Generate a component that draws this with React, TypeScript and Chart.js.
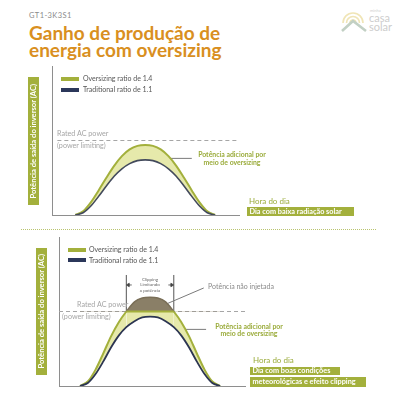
import React, { useEffect, useRef } from "react";
import { Chart, registerables } from "chart.js";
Chart.register(...registerables);

// ---------- data ----------
const hoursTop = [3, 4, 5, 6, 7, 8, 9, 10, 11, 12, 13, 14, 15, 16, 17, 18, 19, 20, 21];
const traditionalTop = [0, 1.5, 6, 12.5, 19.5, 26, 31, 34.5, 36.5, 37, 36.5, 34.5, 31, 26, 19.5, 12.5, 6, 1.5, 0];
const oversizedTop = [0, 2.5, 8.5, 16.5, 25, 33, 39.5, 44, 46.4, 47, 46.4, 44, 39.5, 33, 25, 16.5, 8.5, 2.5, 0];

const hoursBottom = [3, 4, 5, 6, 7, 8, 8.95, 10, 11, 12, 13, 14, 15.05, 16, 17, 18, 19, 20, 21];
const traditionalBottom = [0, 2, 8, 16.5, 26, 34, 39.5, 43.5, 46, 46.5, 46, 43.5, 39.5, 34, 26, 16.5, 8, 2, 0];
const oversizedBottom = [0, 3, 11, 22, 33.5, 43, 50, 56.5, 59, 59.5, 59, 56.5, 50, 43, 33.5, 22, 11, 3, 0];

const ratedPower = 50;
const clipStart = 8.95;
const clipEnd = 15.05;

// annotation anchors in data units (hour, power)
const leaderTop = [[14.3, 38], [18.0, 38]];
const leaderInjected = [[14.3, 55.5], [18.9, 65.8]];
const leaderBottom = [[16.5, 38], [19.2, 38]];
const clipBracketTop = 74.5;
const clipArrowLevel = 67.8;

const labels = {
  code: "GT1-3K3S1",
  title1: "Ganho de produção de",
  title2: "energia com oversizing",
  oversized: "Oversizing ratio de 1.4",
  traditional: "Traditional ratio de 1.1",
  rated1: "Rated AC power",
  rated2: "(power limiting)",
  extra1: "Potência adicional por",
  extra2: "meio de oversizing",
  hour: "Hora do dia",
  lowDay: "Dia com baixa radiação solar",
  goodDay1: "Dia com boas condições",
  goodDay2: "meteorológicas e efeito clipping",
  notInjected: "Potência não injetada",
  clip: ["Clipping", "Limitando", "a potência"],
  yTitle: "Potência de saída do inversor (AC)",
};

// ---------- styles ----------
const GREEN = "#a3b03c";
const GREEN_TEXT = "#9aab3a";
const YELLOW = "#e6e9ab";
const NAVY_TOP = "#434a5c";
const NAVY = "#2c3552";
const BROWN = "#8a7f67";
const GREY = "#a6a6a6";
const AXIS = "#8e8e8e";

const pts = (xs: number[], ys: number[]) => xs.map((x, i) => ({ x, y: ys[i] }));
const pairPts = (p: number[][]) => p.map(([x, y]) => ({ x, y }));

function baseOptions(pad: any, xmin: number, xmax: number) {
  const axis = {
    type: "linear" as const,
    display: true,
    grid: { display: false, drawTicks: false },
    ticks: { display: false },
    border: { display: true, color: AXIS, width: 1 },
  };
  return {
    animation: false as const,
    responsive: false,
    maintainAspectRatio: false,
    events: [],
    layout: { padding: pad },
    plugins: { legend: { display: false }, tooltip: { enabled: false } },
    elements: { point: { radius: 0 } },
    scales: {
      x: { ...axis, min: xmin, max: xmax },
      y: { ...axis, min: 0, max: 100 },
    },
  };
}

function useChart(ref: any, config: () => any) {
  useEffect(() => {
    const c = new Chart(ref.current, config());
    return () => c.destroy();
  }, []);
}

const T = ({ x, cy, size, color, weight = 400, center = false, children, ls = 0 }: any) => (
  <div
    style={{
      position: "absolute",
      left: x,
      top: cy - size / 2,
      fontSize: size,
      lineHeight: `${size}px`,
      color,
      fontWeight: weight,
      whiteSpace: "nowrap",
      letterSpacing: ls,
      transform: center ? "translateX(-50%)" : undefined,
    }}
  >
    {children}
  </div>
);

const Box = ({ x, y, w, h, size, children }: any) => (
  <div
    style={{
      position: "absolute",
      left: x,
      top: y,
      width: w,
      height: h,
      background: GREEN,
      color: "#fff",
      fontWeight: 700,
      fontSize: size,
      display: "flex",
      alignItems: "center",
      paddingLeft: 2.5,
      boxSizing: "border-box",
      whiteSpace: "nowrap",
      overflow: "hidden",
    }}
  >
    {children}
  </div>
);

const YTitle = ({ x, y, w, h }: any) => (
  <div
    style={{
      position: "absolute",
      left: x,
      top: y,
      width: w,
      height: h,
      background: GREEN,
      display: "flex",
      alignItems: "center",
      justifyContent: "center",
    }}
  >
    <span
      style={{
        writingMode: "vertical-rl",
        transform: "rotate(180deg)",
        color: "#fff",
        fontSize: 7.6,
        fontWeight: 700,
        whiteSpace: "nowrap",
        lineHeight: 1,
      }}
    >
      {labels.yTitle}
    </span>
  </div>
);

const Swatch = ({ x, y, color }: any) => (
  <div style={{ position: "absolute", left: x, top: y, width: 18, height: 4, background: color }} />
);

export default function App() {
  const topRef = useRef<HTMLCanvasElement>(null);
  const botRef = useRef<HTMLCanvasElement>(null);

  useChart(topRef, () => ({
    type: "line",
    data: {
      datasets: [
        {
          label: labels.traditional,
          data: pts(hoursTop, traditionalTop),
          borderColor: NAVY_TOP,
          borderWidth: 1.6,
          fill: false,
          cubicInterpolationMode: "monotone",
        },
        {
          label: labels.oversized,
          data: pts(hoursTop, oversizedTop),
          borderColor: GREEN,
          borderWidth: 2,
          backgroundColor: YELLOW,
          fill: 0,
          cubicInterpolationMode: "monotone",
        },
        {
          label: labels.rated1,
          data: [{ x: 0.69, y: ratedPower }, { x: 24.1, y: ratedPower }],
          borderColor: GREY,
          borderWidth: 1.2,
          borderDash: [4, 3],
          fill: false,
        },
        {
          label: "leader",
          data: pairPts(leaderTop),
          borderColor: "#7a7a7a",
          borderWidth: 1,
          fill: false,
        },
      ],
    },
    options: baseOptions({ left: 52, top: 66, right: 161, bottom: 185 }, 0, 24.08),
  }));

  useChart(botRef, () => {
    const above = (c: any) => c.p0.parsed.y >= ratedPower && c.p1.parsed.y >= ratedPower;
    return {
      type: "line",
      data: {
        datasets: [
          {
            label: labels.traditional,
            data: pts(hoursBottom, traditionalBottom),
            borderColor: NAVY,
            borderWidth: 1.8,
            fill: false,
            cubicInterpolationMode: "monotone",
          },
          {
            label: "clip",
            data: [{ x: clipStart, y: ratedPower }, { x: clipEnd, y: ratedPower }],
            borderColor: GREEN,
            borderWidth: 2,
            fill: false,
          },
          {
            label: labels.notInjected,
            data: pts(hoursBottom, oversizedBottom),
            borderWidth: 1.5,
            borderColor: "rgba(0,0,0,0)",
            segment: { borderColor: (c: any) => (above(c) ? "#7a6f58" : "rgba(0,0,0,0)") },
            fill: { target: { value: ratedPower }, above: BROWN, below: "rgba(0,0,0,0)" },
            cubicInterpolationMode: "monotone",
          },
          {
            label: labels.oversized,
            data: pts(hoursBottom, oversizedBottom),
            borderColor: GREEN,
            borderWidth: 2,
            segment: { borderColor: (c: any) => (above(c) ? "rgba(0,0,0,0)" : GREEN) },
            backgroundColor: YELLOW,
            fill: 0,
            cubicInterpolationMode: "monotone",
          },
          {
            label: labels.rated1,
            data: [{ x: 0.3, y: ratedPower }, { x: 24.2, y: ratedPower }],
            borderColor: GREY,
            borderWidth: 1.2,
            borderDash: [4, 3],
            fill: false,
          },
          { label: "l1", data: pairPts(leaderInjected), borderColor: "#7a7a7a", borderWidth: 1, fill: false },
          { label: "l2", data: pairPts(leaderBottom), borderColor: "#7a7a7a", borderWidth: 1, fill: false },
          {
            label: "b1",
            data: [{ x: clipStart, y: ratedPower }, { x: clipStart, y: clipBracketTop }],
            borderColor: "#555",
            borderWidth: 1,
            fill: false,
          },
          {
            label: "b2",
            data: [{ x: clipEnd, y: ratedPower }, { x: clipEnd, y: clipBracketTop }],
            borderColor: "#555",
            borderWidth: 1,
            fill: false,
          },
          {
            label: "a1",
            data: [{ x: clipStart + 0.25, y: clipArrowLevel }, { x: 9.65, y: clipArrowLevel }],
            borderColor: "#444",
            backgroundColor: "#444",
            borderWidth: 0.8,
            pointStyle: "triangle",
            pointRadius: [2, 0],
            pointRotation: [-90, 0],
            fill: false,
          },
          {
            label: "a2",
            data: [{ x: clipEnd - 0.25, y: clipArrowLevel }, { x: 14.35, y: clipArrowLevel }],
            borderColor: "#444",
            backgroundColor: "#444",
            borderWidth: 0.8,
            pointStyle: "triangle",
            pointRadius: [2, 0],
            pointRotation: [90, 0],
            fill: false,
          },
        ],
      },
      options: baseOptions({ left: 59, top: 237, right: 155, bottom: 14 }, 0.3, 24.2),
    };
  });

  return (
    <div
      style={{
        position: "fixed",
        left: 0,
        top: 0,
        width: 400,
        height: 400,
        overflow: "hidden",
        background: "#fff",
        fontFamily: "Lato, 'Open Sans', sans-serif",
      }}
    >
      {/* header */}
      <T x={29} cy={15.7} size={7.5} color="#8a8a8a" ls={0.4}>{labels.code}</T>
      <T x={29} cy={32} size={19} color="#d98f21" weight={700}>{labels.title1}</T>
      <T x={29} cy={49} size={19} color="#d98f21" weight={700}>{labels.title2}</T>

      {/* logo */}
      <svg style={{ position: "absolute", left: 338, top: 4 }} width={60} height={30}>
        <g fill="none" stroke="#f0e5b6" strokeWidth={1.6}>
          <path d="M5 19 A10 10 0 0 1 25 19" />
          <path d="M8.5 19 A6.5 6.5 0 0 1 21.5 19" />
          <path d="M12 19 A3 3 0 0 1 18 19" />
        </g>
        <polyline points="4,27 15,17 28,27" fill="none" stroke="#c2d0c4" strokeWidth={2.6} />
        <text x={32} y={8} fontSize={4} fill="#cfcfcf" fontFamily="Lato">minha</text>
        <text x={31} y={17.5} fontSize={11} fill="#cdcdcd" fontFamily="Lato">casa</text>
        <text x={31} y={26.5} fontSize={11} fill="#cdcdcd" fontFamily="Lato">solar</text>
      </svg>

      <canvas ref={topRef} width={400} height={400} style={{ position: "absolute", left: 0, top: 0 }} />
      <canvas ref={botRef} width={400} height={400} style={{ position: "absolute", left: 0, top: 0 }} />

      {/* top chart texts */}
      <YTitle x={28} y={77} w={11} h={128} />
      <Swatch x={61} y={76.5} color={GREEN} />
      <T x={83} cy={78.3} size={7} color="#555">{labels.oversized}</T>
      <Swatch x={61} y={87.5} color="#2b375a" />
      <T x={83} cy={89.3} size={7} color="#555">{labels.traditional}</T>
      <T x={57} cy={134} size={7.2} color={GREY}>{labels.rated1}</T>
      <T x={57} cy={146} size={7.2} color={GREY}>{labels.rated2}</T>
      <T x={232} cy={154} size={6.9} color={GREEN_TEXT} weight={700} center>{labels.extra1}</T>
      <T x={232} cy={162} size={6.9} color={GREEN_TEXT} weight={700} center>{labels.extra2}</T>
      <T x={249} cy={200.7} size={8} color={GREEN_TEXT}>{labels.hour}</T>
      <Box x={247} y={206.7} w={107} h={9.5} size={7.3}>{labels.lowDay}</Box>

      {/* separator */}
      <div style={{ position: "absolute", left: 21, top: 229, width: 355, borderTop: "1px dotted #b9c46f" }} />

      {/* bottom chart texts */}
      <YTitle x={36} y={248} w={10.7} h={127} />
      <Swatch x={68} y={247.5} color={GREEN} />
      <T x={89} cy={249.3} size={7} color="#555">{labels.oversized}</T>
      <Swatch x={68} y={258.2} color="#2b375a" />
      <T x={89} cy={260} size={7} color="#555">{labels.traditional}</T>
      <T x={150} cy={280} size={4.5} color="#666" center>{labels.clip[0]}</T>
      <T x={150} cy={285.7} size={4.5} color="#666" center>{labels.clip[1]}</T>
      <T x={150} cy={291} size={4.5} color="#666" center>{labels.clip[2]}</T>
      <T x={241} cy={286.7} size={7} color="#8a8a8a" center>{labels.notInjected}</T>
      <T x={77} cy={305} size={7.2} color={GREY}>{labels.rated1}</T>
      <T x={62} cy={317} size={7.2} color={GREY}>{labels.rated2}</T>
      <T x={249} cy={326} size={6.9} color={GREEN_TEXT} weight={700} center>{labels.extra1}</T>
      <T x={249} cy={333} size={6.9} color={GREEN_TEXT} weight={700} center>{labels.extra2}</T>
      <T x={253} cy={360} size={8} color={GREEN_TEXT}>{labels.hour}</T>
      <Box x={250} y={366.7} w={90} h={8.5} size={7.3}>{labels.goodDay1}</Box>
      <Box x={250} y={377} w={116} h={9.5} size={7.3}>{labels.goodDay2}</Box>
    </div>
  );
}
